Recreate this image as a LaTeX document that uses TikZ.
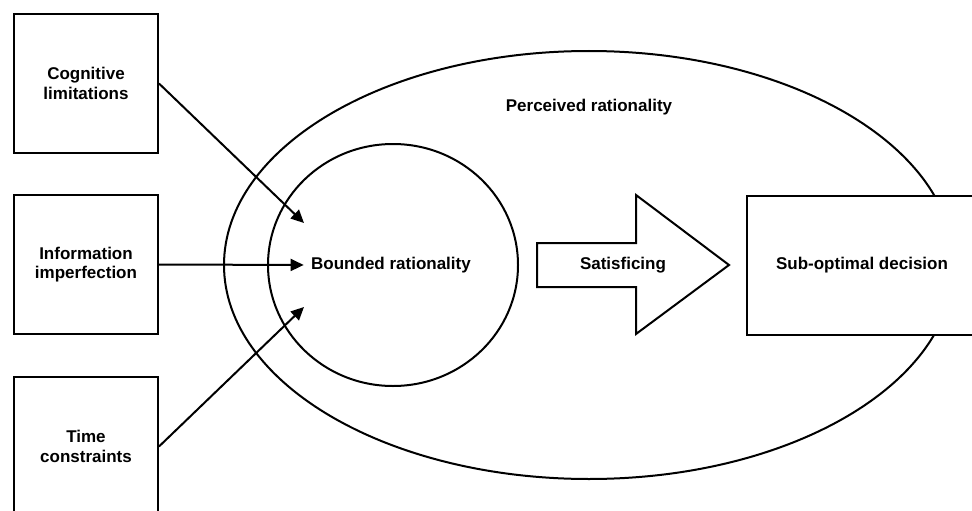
\documentclass[tikz,border=0pt]{standalone}
\usepackage{fontspec}
\setmainfont{Liberation Sans}
\usetikzlibrary{arrows.meta}
\begin{document}
\begin{tikzpicture}[x=1pt,y=-1pt,
  every node/.style={font=\fontsize{17}{19.5}\selectfont\bfseries},
  factor/.style={draw,line width=2pt,minimum width=144pt,minimum height=139pt,
    inner sep=0pt,align=center,fill=white},
  outline/.style={draw,line width=2pt},
  link/.style={line width=2pt,-{Triangle[length=13pt,width=12pt]}}]
\useasboundingbox (0,0) rectangle (972,511);

% nested rationality regions
\draw[outline] (589,265) ellipse [x radius=365pt, y radius=214pt];
\draw[outline] (393,265) ellipse [x radius=125pt, y radius=121pt];
\node at (589,107) (perc) {Perceived rationality};
\node at (391,265) (bounded) {Bounded rationality};

% limiting factors
\node[factor] at (86,83.5) (cog) {Cognitive\\limitations};
\node[factor] at (86,264.5) (info) {Information\\imperfection};
\node[factor] at (86,446.5) (time) {Time\\constraints};

\coordinate (inA) at (304,223);
\coordinate (inC) at (304,307);
\draw[link] (cog.east) -- (inA);
\draw[link,shorten >=4pt] (info.east) -- (bounded.west);
\draw[link] (time.east) -- (inC);

% block arrow and outcome
\draw[outline,fill=white,line join=miter]
  (537,243) -- (636,243) -- (636,195) -- (729,265) -- (636,334)
  -- (636,287) -- (537,287) -- cycle;
\node at (623,265) (sat) {Satisficing};
\node[factor,minimum width=230pt] at (862,265) (sub) {Sub-optimal decision};
\end{tikzpicture}
\end{document}
